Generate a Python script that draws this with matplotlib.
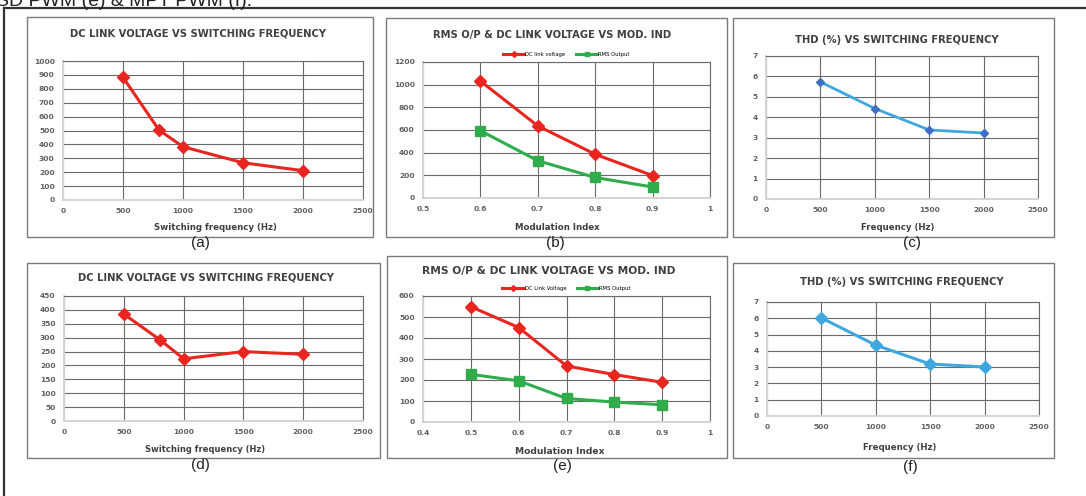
import matplotlib
matplotlib.use("Agg")
import matplotlib.pyplot as plt
from matplotlib.patches import Rectangle
from matplotlib.lines import Line2D

W, H = 1086, 496

# ---- data ----
freq_a = [500, 800, 1000, 1500, 2000]
dc_a = [883, 503, 383, 268, 211]

mod_b = [0.6, 0.7, 0.8, 0.9]
dc_b = [1032, 636, 386, 198]
rms_b = [594, 329, 181, 97]

freq_c = [500, 1000, 1500, 2000]
thd_c = [5.73, 4.43, 3.38, 3.23]

freq_d = [500, 800, 1000, 1500, 2000]
dc_d = [385, 293, 224, 250, 240]

mod_e = [0.5, 0.6, 0.7, 0.8, 0.9]
dc_e = [549, 450, 267, 226, 189]
rms_e = [227, 196, 112, 95, 82]

freq_f = [500, 1000, 1500, 2000]
thd_f = [6.02, 4.35, 3.19, 3.01]

RED = "#e8261f"
GREEN = "#2fac4b"
BLUE = "#3fa7df"
DBLUE = "#3f6fc4"
GRID = "#6a6a6a"
TXT = "#404040"
TICK = "#606060"
FONT = "DejaVu Sans"


def rect(l, t, r, b):
    return [l / W, 1 - b / H, (r - l) / W, (b - t) / H]


def ftext(x, y, s, **kw):
    fig.text(x / W, 1 - y / H, s, ha="center", va="center", **kw)


def style(ax, xlim, xstep, ylim, ystep, xfmt=None):
    ax.set_xlim(*xlim)
    ax.set_ylim(*ylim)
    xt = []
    v = xlim[0]
    while v <= xlim[1] + 1e-9:
        xt.append(round(v, 2))
        v += xstep
    yt = []
    v = ylim[0]
    while v <= ylim[1] + 1e-9:
        yt.append(round(v, 2))
        v += ystep
    ax.set_xticks(xt)
    ax.set_yticks(yt)
    if xfmt:
        ax.set_xticklabels([xfmt(t) for t in xt])
    ax.set_axisbelow(True)
    ax.grid(True, color=GRID, linewidth=0.8)
    for s in ("left", "bottom"):
        ax.spines[s].set_color("#d4d4d4")
        ax.spines[s].set_linewidth(1.4)
    for s in ("top", "right"):
        ax.spines[s].set_color(GRID)
        ax.spines[s].set_linewidth(0.8)
    ax.tick_params(length=0, labelsize=5.4, labelcolor=TICK, pad=6)
    for lab in ax.get_xticklabels() + ax.get_yticklabels():
        lab.set_fontfamily(FONT)
        lab.set_fontweight("bold")


def mfmt(t):
    if abs(t - 1) < 1e-9:
        return "1"
    return f"{t:.1f}"


def title(x, y, s, size=7.2):
    ftext(x, y, s, fontsize=size, family=FONT, weight="bold", color=TXT)


def xlab(x, y, s, size=6.2):
    ftext(x, y, s, fontsize=size, family=FONT, weight="bold", color=TXT)


fig = plt.figure(figsize=(W / 100, H / 100), dpi=100)
fig.patch.set_facecolor("white")

# outer frame and cut-off caption at top
fig.add_artist(Line2D([4 / W, 4 / W], [0, 1 - 8 / H], transform=fig.transFigure,
                      color="#333333", linewidth=1.6))
fig.add_artist(Line2D([4 / W, 1], [1 - 8 / H, 1 - 8 / H], transform=fig.transFigure,
                      color="#333333", linewidth=1.6))
fig.text(-4 / W, 1 - 6 / H, "SD PWM (e) & MPT PWM (f).", ha="left", va="baseline",
         fontsize=14, family="Liberation Sans", color="#222222")

boxes = [(27, 17, 373, 237), (386, 18, 727, 237), (733, 18, 1054, 237),
         (27, 263, 380, 458), (387, 256, 727, 458), (733, 263, 1054, 458)]
for l, t, r, b in boxes:
    fig.add_artist(Rectangle((l / W, 1 - b / H), (r - l) / W, (b - t) / H,
                             transform=fig.transFigure, fill=False,
                             edgecolor="#7a7a7a", linewidth=1.0))

# (a)
ax = fig.add_axes(rect(63, 61, 363, 200))
style(ax, (0, 2500), 500, (0, 1000), 100)
ax.plot(freq_a, dc_a, color=RED, lw=2.2, marker="D", ms=6.5)
title(198, 34, "DC LINK VOLTAGE VS SWITCHING FREQUENCY")
xlab(215, 228, "Switching frequency (Hz)")

# (b)
ax = fig.add_axes(rect(423, 62, 710, 198))
style(ax, (0.5, 1.0), 0.1, (0, 1200), 200, mfmt)
ax.plot(mod_b, dc_b, color=RED, lw=2.2, marker="D", ms=6.5, label="DC link voltage")
ax.plot(mod_b, rms_b, color=GREEN, lw=2.2, marker="s", ms=6.5, label="RMS Output")
ax.legend(loc="lower center", bbox_to_anchor=(0.5, 1.02), ncol=2, frameon=False,
          prop={"family": FONT, "size": 3.8}, handlelength=4, markerscale=0.45,
          columnspacing=2.0, handletextpad=0.2, borderpad=0)
title(552, 35, "RMS O/P & DC LINK VOLTAGE VS MOD. IND")
xlab(557, 227, "Modulation Index")

# (c)
ax = fig.add_axes(rect(766, 56, 1038, 199))
style(ax, (0, 2500), 500, (0, 7), 1)
ax.plot(freq_c, thd_c, color=BLUE, lw=2.0, marker="D", ms=4.5,
        markerfacecolor=DBLUE, markeredgecolor=DBLUE)
title(897, 40, "THD (%) VS SWITCHING FREQUENCY")
xlab(898, 228, "Frequency (Hz)")

# (d)
ax = fig.add_axes(rect(64, 296, 363, 421))
style(ax, (0, 2500), 500, (0, 450), 50)
ax.plot(freq_d, dc_d, color=RED, lw=2.2, marker="D", ms=6.5)
title(206, 278, "DC LINK VOLTAGE VS SWITCHING FREQUENCY")
xlab(205, 449, "Switching frequency (Hz)", 6.0)

# (e)
ax = fig.add_axes(rect(423, 296, 710, 422))
style(ax, (0.4, 1.0), 0.1, (0, 600), 100, mfmt)
ax.plot(mod_e, dc_e, color=RED, lw=2.2, marker="D", ms=6.5, label="DC Link Voltage")
ax.plot(mod_e, rms_e, color=GREEN, lw=2.2, marker="s", ms=6.5, label="RMS Output")
ax.legend(loc="lower center", bbox_to_anchor=(0.5, 1.02), ncol=2, frameon=False,
          prop={"family": FONT, "size": 3.8}, handlelength=4, markerscale=0.45,
          columnspacing=2.0, handletextpad=0.2, borderpad=0)
title(549, 271, "RMS O/P & DC LINK VOLTAGE VS MOD. IND", 7.7)
xlab(560, 451, "Modulation Index", 6.6)

# (f)
ax = fig.add_axes(rect(767, 302, 1039, 416))
style(ax, (0, 2500), 500, (0, 7), 1)
ax.plot(freq_f, thd_f, color=BLUE, lw=2.2, marker="D", ms=6)
title(902, 282, "THD (%) VS SWITCHING FREQUENCY")
xlab(900, 447, "Frequency (Hz)")

# panel captions
for x, y, s in [(200, 243, "(a)"), (555, 243, "(b)"), (912, 243, "(c)"),
                (200, 465, "(d)"), (562, 466, "(e)"), (910, 467, "(f)")]:
    ftext(x, y, s, fontsize=11, family="Liberation Sans", color="#222222")

fig.savefig("out.png", dpi=100)
